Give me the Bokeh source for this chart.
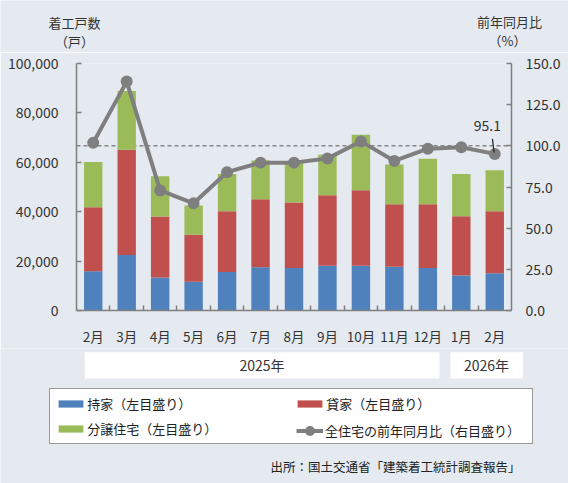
from bokeh.plotting import figure
from bokeh.layouts import column
from bokeh.models import (Range1d, LinearAxis, CategoricalAxis, FixedTicker, NumeralTickFormatter,
                          CustomJSTickFormatter, Span, Label, Legend, LegendItem, ColumnDataSource,
                          FactorRange)
from bokeh.core.properties import value
from bokeh.embed import file_html
from bokeh.resources import INLINE

# ---- data ----
months = ["2025-02", "2025-03", "2025-04", "2025-05", "2025-06", "2025-07", "2025-08",
          "2025-09", "2025-10", "2025-11", "2025-12", "2026-01", "2026-02"]
month_labels = ["2月", "3月", "4月", "5月", "6月", "7月", "8月", "9月", "10月", "11月", "12月", "1月", "2月"]
own = [15900, 22500, 13400, 11600, 15600, 17500, 17200, 18100, 18100, 17700, 17200, 14200, 15100]
rent = [25900, 42600, 24700, 19100, 24600, 27500, 26500, 28600, 30600, 25300, 25800, 24000, 25100]
sale = [18300, 23800, 16300, 11800, 15100, 15700, 16100, 16400, 22500, 16100, 18400, 17100, 16600]
yoy = [101.9, 139.0, 72.9, 65.1, 84.0, 89.8, 89.8, 92.3, 102.7, 90.8, 98.3, 99.1, 95.1]
left_ticks = [0, 20000, 40000, 60000, 80000, 100000]
right_ticks = [0, 25, 50, 75, 100, 125, 150]
years = ["2025年", "2026年"]
axis_titles = ["着工戸数", "（戸）", "前年同月比", "（%）"]
series_labels = ["持家（左目盛り）", "貸家（左目盛り）", "分譲住宅（左目盛り）", "全住宅の前年同月比（右目盛り）"]
source_note = "出所：国土交通省「建築着工統計調査報告」"
colors = ["#4F81BD", "#C0504D", "#9BBB59"]
line_color = "#7F7F7F"

FONT = "Noto Sans CJK JP"
TXT = "#333333"
BG = "#e4eaef"
W = 568
H_HEAD, H_CHART, H_FOOT = 52, 296, 135


def blank_fig(h, y0):
    f = figure(width=W, height=h, x_range=Range1d(0, W), y_range=Range1d(y0 + h, y0),
               output_backend="svg", toolbar_location=None, min_border=0,
               min_border_left=0, min_border_right=0, min_border_top=0, min_border_bottom=0,
               x_axis_location=None, y_axis_location=None, frame_align=False)
    f.background_fill_color = BG
    f.border_fill_color = BG
    f.outline_line_color = None
    f.xgrid.visible = False
    f.ygrid.visible = False
    return f


# ---- header (axis titles) ----
head = blank_fig(H_HEAD, 0)
head.text(x=[74, 74, 509, 507], y=[22, 41, 21, 40], text=axis_titles, text_align="center",
          text_baseline="middle", text_font=value(FONT), text_font_size="13px", text_color=TXT)

# ---- chart ----
src = ColumnDataSource(dict(month=months, own=own, rent=rent, sale=sale, yoy=yoy))
p = figure(x_range=FactorRange(factors=months), y_range=Range1d(0, 100000),
           width=W, height=H_CHART, output_backend="svg", toolbar_location=None,
           x_axis_location=None, y_axis_location=None, frame_align=False,
           min_border_left=76, min_border_right=57, min_border_top=11, min_border_bottom=33)
p.extra_y_ranges = {"pct": Range1d(0, 150)}
p.background_fill_color = BG
p.border_fill_color = BG
p.outline_line_color = None
p.xgrid.visible = False
p.ygrid.visible = False


def style_axis(ax, size="14px"):
    ax.axis_line_color = "#7f7f7f"
    ax.axis_line_width = 1.5
    ax.major_tick_line_color = "#7f7f7f"
    ax.major_tick_line_width = 1.5
    ax.major_tick_in = 5
    ax.major_tick_out = 0
    ax.minor_tick_line_color = None
    ax.major_label_text_font = FONT
    ax.major_label_text_font_size = size
    ax.major_label_text_color = TXT


yl = LinearAxis(ticker=FixedTicker(ticks=left_ticks), formatter=NumeralTickFormatter(format="0,0"))
style_axis(yl)
yl.major_label_standoff = 18
p.add_layout(yl, "left")

yr = LinearAxis(y_range_name="pct", ticker=FixedTicker(ticks=right_ticks),
                formatter=NumeralTickFormatter(format="0.0"))
style_axis(yr)
yr.major_label_standoff = 14
p.add_layout(yr, "right")

# boundary ticks between months (no labels)
xt = LinearAxis(ticker=FixedTicker(ticks=list(range(1, len(months)))),
                formatter=CustomJSTickFormatter(code="return '';"))
style_axis(xt)
xt.major_label_standoff = 0
p.add_layout(xt, "below")

xc = CategoricalAxis(formatter=CustomJSTickFormatter(
    args=dict(keys=months, vals=month_labels),
    code="const i = keys.indexOf(tick); return i >= 0 ? vals[i] : tick;"))
style_axis(xc, "13.5px")
xc.axis_line_color = None
xc.major_tick_line_color = None
xc.major_label_standoff = 15
p.add_layout(xc, "below")

span = Span(location=100, dimension="width", y_range_name="pct", line_color="#555555",
            line_dash="4 3", line_width=1, level="underlay")
p.add_layout(span)

bars = p.vbar_stack(["own", "rent", "sale"], x="month", width=0.55, color=colors,
                    line_color=None, source=src)
p.line(x="month", y="yoy", source=src, y_range_name="pct", line_color=line_color, line_width=4)
p.scatter(x="month", y="yoy", source=src, y_range_name="pct", size=12,
          fill_color=line_color, line_color=None)

last_x = len(months) - 0.5
p.segment(x0=[last_x - 0.07], y0=[yoy[-1] + 9.1], x1=[last_x - 0.02], y1=[yoy[-1] + 0.8],
          y_range_name="pct", line_color="#222222", line_width=1.2)
p.add_layout(Label(x=last_x - 0.22, y=yoy[-1] + 17.4, y_range_name="pct", text=f"{yoy[-1]:.1f}",
                   text_align="center", text_baseline="middle", text_font=FONT,
                   text_font_size="14px", text_color=TXT))

# ---- footer (year boxes, legend, source) ----
y0 = H_HEAD + H_CHART
foot = blank_fig(H_FOOT, y0)
foot.quad(left=[84.3, 450], right=[439, 522.3], top=[351.7, 351.7], bottom=[378, 378],
          fill_color="white", line_color=None)
foot.text(x=[261.5, 486], y=[364.5, 364.5], text=years, text_align="center", text_baseline="middle",
          text_font=value(FONT), text_font_size="14px", text_color=TXT)
foot.text(x=[520], y=[466], text=[source_note], text_align="right", text_baseline="middle",
          text_font=value(FONT), text_font_size="12.5px", text_color="#222222")

# legend glyph renderers: same series data (months are not on this panel's numeric scale,
# so nothing is drawn here; they only provide the legend swatches)
lb = [foot.vbar(x="month", top=col, width=1, fill_color=c, line_color=None, source=src)
      for col, c in zip(["own", "rent", "sale"], colors)]
ll = foot.line(x="month", y="yoy", source=src, line_color=line_color, line_width=4)
ls = foot.scatter(x="month", y="yoy", source=src, size=12, fill_color=line_color, line_color=None)

bottom_edge = y0 + H_FOOT
legA = Legend(items=[LegendItem(label=series_labels[0], renderers=[lb[0]]),
                     LegendItem(label=series_labels[2], renderers=[lb[2]]),
                     LegendItem(label=series_labels[1], renderers=[lb[1]])],
              location=(49.2, bottom_edge - 444.3), ncols=2, orientation="vertical",
              glyph_width=31, glyph_height=9, label_standoff=1, label_width=201, label_height=17,
              spacing=6, padding=5, margin=0, border_line_color="#333333", border_line_width=1,
              background_fill_color="white", background_fill_alpha=1,
              label_text_font=FONT, label_text_font_size="13px", label_text_color="#222222")
foot.add_layout(legA)
legB = Legend(items=[LegendItem(label=series_labels[3], renderers=[ll, ls])],
              location=(296, bottom_edge - 443.2), glyph_width=27, glyph_height=25, label_standoff=2,
              label_height=17, padding=0, margin=0, border_line_alpha=0, background_fill_alpha=0,
              label_text_font=FONT, label_text_font_size="13px", label_text_color="#222222")
foot.add_layout(legB)

layout = column(head, p, foot, spacing=0)
open("out.html", "w").write(file_html(layout, INLINE))
